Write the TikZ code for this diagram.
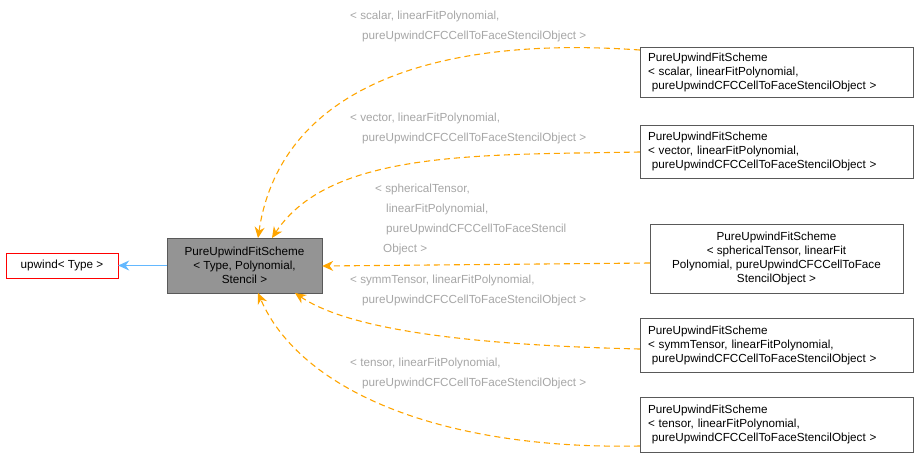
\documentclass[tikz,border=0pt]{standalone}
\usepackage{fontspec}
\setmainfont{Liberation Sans}
\usetikzlibrary{arrows.meta}
\definecolor{orng}{HTML}{FFA500}
\definecolor{blu}{HTML}{63B8FF}
\begin{document}
\begin{tikzpicture}[x=1pt,y=-1pt,
  box/.style={draw=black!65,fill=white,font=\fontsize{11.7}{14}\selectfont,inner sep=3pt,align=center},
  lbox/.style={box,align=left,inner xsep=8pt,text width=257pt},
  dep/.style={draw=orng,dashed,dash pattern=on 6pt off 4pt,line width=1.1pt,-{Stealth[length=11pt,width=10pt]}},
  lab/.style={text=black!35,font=\fontsize{11.7}{13}\selectfont,align=left,anchor=north west,inner sep=0pt}]
\useasboundingbox (0,0) rectangle (919,459);
\node[box,draw=red,minimum width=112pt,minimum height=25pt] (up) at (62,265.5) {upwind< Type >};
\node[box,fill=black!42,minimum width=155pt,minimum height=55pt] (main) at (244.5,265.5) {PureUpwindFitScheme\\< Type, Polynomial,\\Stencil >};
\node[lbox,minimum width=273pt,minimum height=50pt] (b1) at (776.5,72) {PureUpwindFitScheme\\< scalar, linearFitPolynomial,\\\ pureUpwindCFCCellToFaceStencilObject >};
\node[lbox,minimum width=273pt,minimum height=53pt] (b2) at (776.5,151.5) {PureUpwindFitScheme\\< vector, linearFitPolynomial,\\\ pureUpwindCFCCellToFaceStencilObject >};
\node[box,minimum width=253pt,minimum height=69pt] (b3) at (776.5,258.5) {PureUpwindFitScheme\\< sphericalTensor, linearFit\\Polynomial, pureUpwindCFCCellToFace\\StencilObject >};
\node[lbox,minimum width=273pt,minimum height=54pt] (b4) at (776.5,345) {PureUpwindFitScheme\\< symmTensor, linearFitPolynomial,\\\ pureUpwindCFCCellToFaceStencilObject >};
\node[lbox,minimum width=273pt,minimum height=55pt] (b5) at (776.5,424.5) {PureUpwindFitScheme\\< tensor, linearFitPolynomial,\\\ pureUpwindCFCCellToFaceStencilObject >};
\draw[draw=blu,line width=1.1pt,-{Stealth[length=11pt,width=10pt]}] (main.west) -- (up.east);
\draw[dep] (b1.west|-0,50) .. controls (430,35) and (280,90) .. (258,238);
\draw[dep] (b2.west|-0,152) .. controls (480,155) and (330,150) .. (272,238);
\draw[dep] (b3.west|-0,263) -- (main.east|-0,266);
\draw[dep] (b4.west|-0,349) .. controls (470,345) and (350,330) .. (295,293);
\draw[dep] (b5.west|-0,446) .. controls (440,450) and (300,390) .. (258,293);
\node[lab] (l1) at (350,11) {< scalar, linearFitPolynomial,\\[7pt]\hspace{12pt}pureUpwindCFCCellToFaceStencilObject >};
\node[lab] (l2) at (350,113) {< vector, linearFitPolynomial,\\[7pt]\hspace{12pt}pureUpwindCFCCellToFaceStencilObject >};
\node[lab] (l3) at (375,184) {< sphericalTensor,\\[7pt]\hspace{11pt}linearFitPolynomial,\\[7pt]\hspace{11pt}pureUpwindCFCCellToFaceStencil\\[7pt]\hspace{8pt}Object >};
\node[lab] (l4) at (350,275) {< symmTensor, linearFitPolynomial,\\[7pt]\hspace{12pt}pureUpwindCFCCellToFaceStencilObject >};
\node[lab] (l5) at (350,358) {< tensor, linearFitPolynomial,\\[7pt]\hspace{12pt}pureUpwindCFCCellToFaceStencilObject >};
\end{tikzpicture}
\end{document}
